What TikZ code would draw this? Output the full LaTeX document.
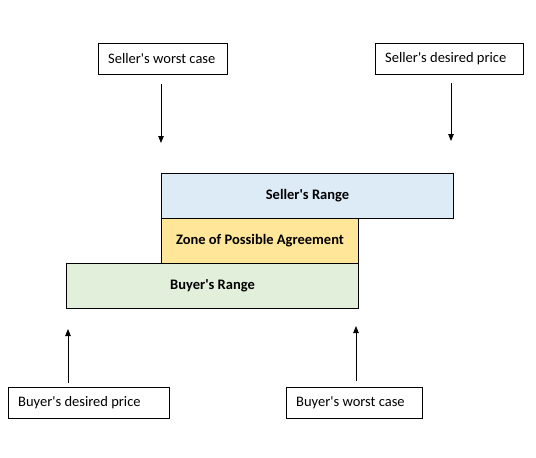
\documentclass[tikz,border=0pt]{standalone}
\usepackage{fontspec}
\setmainfont{Carlito}[Ligatures=TeXOff]
\usetikzlibrary{arrows.meta}
\definecolor{sellerblue}{HTML}{DDEBF7}
\definecolor{zopayellow}{HTML}{FFE699}
\definecolor{buyergreen}{HTML}{E2EFDA}
\begin{document}
\begin{tikzpicture}[x=1pt,y=-1pt,
  every node/.style={font=\fontsize{14.5}{16}\selectfont},
  labelbox/.style={draw=black,line width=1pt,fill=white,anchor=north west,inner sep=0pt,minimum height=31pt},
  labeltext/.style={anchor=west,inner sep=0pt},
  rangebox/.style={draw=black,line width=1pt,anchor=north west,inner sep=0pt,minimum height=45pt,font=\fontsize{14.5}{16}\selectfont\bfseries},
  pointer/.style={line width=0.8pt,-{Triangle[length=7pt,width=5.5pt]}}]
\useasboundingbox (0,0) rectangle (536,458);
% label boxes
\node[labelbox,minimum width=129pt] (sw) at (98,42.5) {};
\node[labeltext] (swt) at ([xshift=10pt]sw.west) {Seller's worst case};
\node[labelbox,minimum width=148pt] (sd) at (375,42.5) {};
\node[labeltext] (sdt) at ([xshift=10pt]sd.west) {Seller's desired price};
\node[labelbox,minimum width=161pt] (bd) at (8,387) {};
\node[labeltext] (bdt) at ([xshift=10pt]bd.west) {Buyer's desired price};
\node[labelbox,minimum width=136pt] (bw) at (286,387) {};
\node[labeltext] (bwt) at ([xshift=10pt]bw.west) {Buyer's worst case};
% range boxes
\node[rangebox,fill=sellerblue,minimum width=292pt] (sr) at (161,173) {Seller's Range};
\node[rangebox,fill=zopayellow,minimum width=197pt] (zo) at (161,218) {Zone of Possible Agreement};
\node[rangebox,fill=buyergreen,minimum width=292pt] (br) at (66,263) {Buyer's Range};
% arrow end points
\coordinate (a1s) at (161,84);  \coordinate (a1e) at (161,143);
\coordinate (a2s) at (451,83);  \coordinate (a2e) at (451,141);
\coordinate (a3s) at (68,383);  \coordinate (a3e) at (68,329);
\coordinate (a4s) at (356,381); \coordinate (a4e) at (356,326);
\draw[pointer] (a1s) -- (a1e);
\draw[pointer] (a2s) -- (a2e);
\draw[pointer] (a3s) -- (a3e);
\draw[pointer] (a4s) -- (a4e);
\end{tikzpicture}
\end{document}
